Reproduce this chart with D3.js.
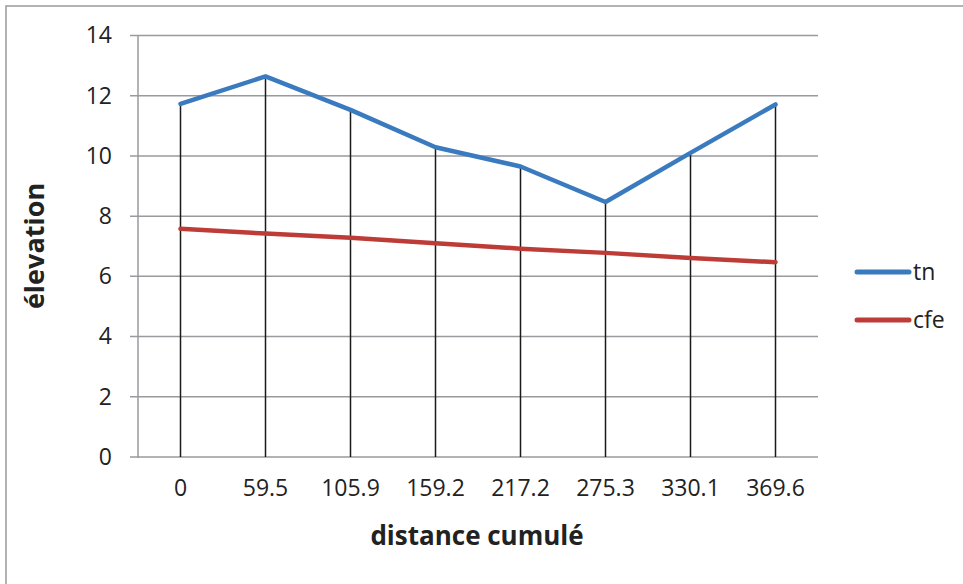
<!DOCTYPE html>
<html>
<head>
<meta charset="utf-8">
<script src="https://cdn.jsdelivr.net/npm/d3@7"></script>
<style>
  html, body { margin: 0; padding: 0; background: #fff; }
  svg { display: block; font-family: "Open Sans", Lato, sans-serif; }
</style>
</head>
<body>
<svg id="chart" width="963" height="584"></svg>
<script>
// Cumulative distance (category labels) and elevations along the profile
const categories = ["0", "59.5", "105.9", "159.2", "217.2", "275.3", "330.1", "369.6"];
const tnValues  = [11.73, 12.64, 11.53, 10.29, 9.65, 8.47, 10.10, 11.71];
const cfeValues = [7.58, 7.42, 7.28, 7.10, 6.92, 6.78, 6.61, 6.47];
const yTicks = [0, 2, 4, 6, 8, 10, 12, 14];
const seriesNames = ["tn", "cfe"];
const seriesColors = ["#3a7bbf", "#be3c37"];

const svg = d3.select("#chart");
const plot = { left: 138, right: 818, top: 35.5, bottom: 457 };
const fontFamily = "'Open Sans', Lato, sans-serif";

// Outer chart frame
svg.append("rect")
  .attr("x", 6).attr("y", 6).attr("width", 990).attr("height", 600)
  .attr("fill", "#fff").attr("stroke", "#a0a0a4").attr("stroke-width", 1.6);

const x = d3.scaleBand().domain(categories).range([plot.left, plot.right]);
const y = d3.scaleLinear().domain([0, 14]).range([plot.bottom, plot.top]);

// Horizontal gridlines
svg.append("g")
  .selectAll("line").data(yTicks).join("line")
  .attr("x1", plot.left - 8).attr("x2", plot.right)
  .attr("y1", d => y(d)).attr("y2", d => y(d))
  .attr("stroke", "#9a9a9e").attr("stroke-width", 1.5);

// Vertical axis line
svg.append("line")
  .attr("x1", plot.left).attr("x2", plot.left)
  .attr("y1", plot.top).attr("y2", plot.bottom + 1)
  .attr("stroke", "#9a9a9e").attr("stroke-width", 1.5);

// Y axis labels
const yAxis = d3.axisLeft(y).tickValues(yTicks).tickSize(0).tickPadding(26);
const gy = svg.append("g").attr("transform", `translate(${plot.left},0)`).call(yAxis);
gy.select(".domain").remove();
gy.selectAll("text").attr("font-size", 23).attr("fill", "#222")
  .attr("font-family", fontFamily);

// X axis labels
const xAxis = d3.axisBottom(x).tickSize(0).tickPadding(23);
const gx = svg.append("g").attr("transform", `translate(0,${plot.bottom})`).call(xAxis);
gx.select(".domain").remove();
gx.selectAll("text").attr("font-size", 23).attr("fill", "#222")
  .attr("font-family", fontFamily);

const cx = d => x(d) + x.bandwidth() / 2;

// Drop lines from the tn series down to the axis
svg.append("g")
  .selectAll("line").data(categories).join("line")
  .attr("x1", d => cx(d)).attr("x2", d => cx(d))
  .attr("y1", (d, i) => y(tnValues[i])).attr("y2", y(0))
  .attr("stroke", "#1a1a1a").attr("stroke-width", 1.5);

// Series lines (cfe first so tn sits on top)
const line = d3.line().x((v, i) => cx(categories[i])).y(v => y(v));
[[cfeValues, 1], [tnValues, 0]].forEach(([vals, idx]) => {
  svg.append("path")
    .attr("d", line(vals))
    .attr("fill", "none")
    .attr("stroke", seriesColors[idx])
    .attr("stroke-width", 4.5)
    .attr("stroke-linejoin", "round")
    .attr("stroke-linecap", "round");
});

// Axis titles
svg.append("text")
  .attr("x", 477).attr("y", 545)
  .attr("text-anchor", "middle")
  .attr("font-size", 26).attr("font-weight", "bold").attr("fill", "#222")
  .attr("font-family", fontFamily)
  .text("distance cumulé");

svg.append("text")
  .attr("transform", "translate(44,246) rotate(-90)")
  .attr("text-anchor", "middle")
  .attr("font-size", 27).attr("font-weight", "bold").attr("fill", "#222")
  .attr("font-family", fontFamily)
  .text("élevation");

// Legend
const legend = svg.append("g");
seriesNames.forEach((name, i) => {
  const ly = 272 + i * 48;
  legend.append("line")
    .attr("x1", 857).attr("x2", 909).attr("y1", ly).attr("y2", ly)
    .attr("stroke", seriesColors[i]).attr("stroke-width", 5)
    .attr("stroke-linecap", "round");
  legend.append("text")
    .attr("x", 913).attr("y", ly + 8)
    .attr("font-size", 23).attr("fill", "#222")
    .attr("font-family", fontFamily)
    .text(name);
});
</script>
</body>
</html>
